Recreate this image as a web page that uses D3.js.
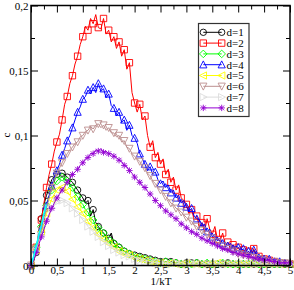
<!DOCTYPE html>
<html>
<head>
<meta charset="utf-8">
<script src="https://cdn.jsdelivr.net/npm/d3@7"></script>
<style>
    body { margin: 0; background: #fff; }
    svg { display: block; }
    svg text { font-family: "Liberation Serif", "Times New Roman", Times, serif !important; font-size: 11px; fill: #000; }
</style>
</head>
<body>
<svg id="chart" width="294" height="290"></svg>
<script>
'use strict';

// valores, paso de 0.05 en 1/kT
var kT = d3.range(101).map(function (i) { return +(i * 0.05).toFixed(2); });

var d1 = [0, 0.003, 0.01, 0.027, 0.036, 0.047, 0.054, 0.06, 0.066, 0.068, 0.07, 0.071, 0.071, 0.07, 0.068, 0.066, 0.064, 0.061, 0.058, 0.055,
    0.052, 0.048, 0.05, 0.038, 0.043, 0.033, 0.03, 0.027, 0.025, 0.022, 0.021, 0.025, 0.017, 0.016, 0.014, 0.013, 0.011, 0.01, 0.009, 0.008,
    0.008, 0.007, 0.007, 0.007, 0.006, 0.005, 0.005, 0.004, 0.004, 0.003, 0.003, 0.003, 0.003, 0.002, 0.003, 0.002, 0.002, 0.002, 0.001, 0.002,
    0.002, 0.001, 0.002, 0.001, 0.002, 0.001, 0.001, 0.002, 0.001, 0.001, 0.001, 0.002, 0.001, 0.001, 0.001, 0.001, 0.002, 0.001, 0.001, 0.001,
    0.001, 0.001, 0.001, 0.002, 0.001, 0.001, 0.001, 0.001, 0.001, 0.001, 0.001, 0.001, 0.001, 0.001, 0.001, 0.001, 0.001, 0.001, 0.001, 0.001, 0.001];
var d2 = [0, 0.006, 0.014, 0.024, 0.035, 0.048, 0.06, 0.07, 0.078, 0.088, 0.095, 0.101, 0.112, 0.124, 0.13, 0.14, 0.146, 0.155, 0.161, 0.17,
    0.176, 0.184, 0.181, 0.19, 0.186, 0.193, 0.183, 0.182, 0.19, 0.178, 0.181, 0.172, 0.176, 0.167, 0.172, 0.161, 0.166, 0.151, 0.156, 0.133,
    0.125, 0.118, 0.124, 0.112, 0.115, 0.1, 0.091, 0.096, 0.083, 0.087, 0.078, 0.082, 0.07, 0.074, 0.064, 0.068, 0.058, 0.062, 0.052, 0.05,
    0.047, 0.04, 0.043, 0.035, 0.038, 0.03, 0.033, 0.026, 0.036, 0.028, 0.024, 0.03, 0.02, 0.019, 0.025, 0.016, 0.018, 0.013, 0.016, 0.011,
    0.014, 0.01, 0.012, 0.008, 0.011, 0.007, 0.013, 0.006, 0.007, 0.004, 0.005, 0.003, 0.004, 0.003, 0.003, 0.002, 0.002, 0.002, 0.001, 0.002, 0.001];
var d3v = [0, 0.006, 0.014, 0.022, 0.03, 0.038, 0.046, 0.053, 0.058, 0.062, 0.065, 0.067, 0.068, 0.066, 0.065, 0.061, 0.06, 0.055, 0.053, 0.049,
    0.047, 0.043, 0.041, 0.036, 0.035, 0.03, 0.029, 0.025, 0.025, 0.021, 0.02, 0.018, 0.017, 0.014, 0.014, 0.012, 0.011, 0.01, 0.009, 0.008,
    0.007, 0.007, 0.006, 0.005, 0.005, 0.004, 0.004, 0.003, 0.003, 0.003, 0.002, 0.002, 0.003, 0.002, 0.002, 0.001, 0.002, 0.002, 0.001, 0.002,
    0.001, 0.002, 0.001, 0.001, 0.002, 0.001, 0.001, 0.001, 0.002, 0.001, 0.001, 0.001, 0.001, 0.001, 0.002, 0.001, 0.001, 0.001, 0.001, 0.001,
    0.001, 0.001, 0.001, 0.001, 0.001, 0.001, 0.002, 0.001, 0.001, 0.001, 0.001, 0.001, 0.001, 0.001, 0.001, 0.001, 0.001, 0.001, 0.001, 0.001, 0.001];
var d4 = [0, 0.006, 0.013, 0.02, 0.028, 0.037, 0.046, 0.054, 0.061, 0.068, 0.073, 0.078, 0.085, 0.09, 0.096, 0.1, 0.106, 0.112, 0.118, 0.122,
    0.128, 0.13, 0.135, 0.132, 0.137, 0.133, 0.14, 0.134, 0.136, 0.129, 0.132, 0.123, 0.121, 0.115, 0.118, 0.11, 0.112, 0.104, 0.108, 0.1,
    0.098, 0.094, 0.086, 0.082, 0.078, 0.073, 0.076, 0.07, 0.072, 0.066, 0.063, 0.065, 0.06, 0.062, 0.056, 0.058, 0.052, 0.054, 0.048, 0.05,
    0.045, 0.042, 0.044, 0.038, 0.036, 0.035, 0.03, 0.032, 0.026, 0.028, 0.022, 0.024, 0.019, 0.021, 0.017, 0.018, 0.015, 0.017, 0.013, 0.015,
    0.014, 0.011, 0.013, 0.009, 0.011, 0.008, 0.012, 0.009, 0.006, 0.007, 0.005, 0.004, 0.005, 0.003, 0.003, 0.002, 0.003, 0.002, 0.002, 0.001, 0.001];
var d5 = [0, 0.005, 0.012, 0.019, 0.026, 0.033, 0.04, 0.046, 0.051, 0.055, 0.058, 0.06, 0.06, 0.059, 0.057, 0.054, 0.051, 0.048, 0.045, 0.043,
    0.04, 0.037, 0.034, 0.031, 0.029, 0.026, 0.024, 0.022, 0.02, 0.018, 0.017, 0.015, 0.014, 0.013, 0.011, 0.01, 0.009, 0.008, 0.008, 0.007,
    0.006, 0.005, 0.005, 0.004, 0.004, 0.003, 0.003, 0.003, 0.002, 0.002, 0.002, 0.002, 0.001, 0.002, 0.002, 0.001, 0.001, 0.002, 0.001, 0.001,
    0.002, 0.001, 0.001, 0.001, 0.001, 0.002, 0.001, 0.001, 0.001, 0.001, 0.001, 0.001, 0.002, 0.001, 0.001, 0.001, 0.001, 0.001, 0.001, 0.001,
    0.001, 0.002, 0.001, 0.001, 0.001, 0.001, 0.001, 0.001, 0.001, 0.001, 0.001, 0.001, 0.001, 0.001, 0.001, 0.001, 0.001, 0.001, 0.001, 0.001, 0.001];
var d6 = [0, 0.005, 0.012, 0.019, 0.027, 0.035, 0.044, 0.052, 0.06, 0.066, 0.071, 0.075, 0.079, 0.083, 0.086, 0.089, 0.091, 0.094, 0.095, 0.099,
    0.1, 0.103, 0.104, 0.107, 0.105, 0.108, 0.109, 0.106, 0.108, 0.104, 0.106, 0.102, 0.102, 0.099, 0.1, 0.095, 0.096, 0.091, 0.09, 0.086,
    0.084, 0.082, 0.08, 0.076, 0.075, 0.071, 0.069, 0.065, 0.063, 0.06, 0.058, 0.056, 0.053, 0.051, 0.048, 0.047, 0.044, 0.043, 0.041, 0.039,
    0.037, 0.035, 0.034, 0.031, 0.03, 0.028, 0.027, 0.025, 0.024, 0.022, 0.021, 0.019, 0.018, 0.016, 0.015, 0.014, 0.013, 0.012, 0.011, 0.01,
    0.009, 0.009, 0.008, 0.007, 0.007, 0.006, 0.006, 0.005, 0.005, 0.004, 0.004, 0.004, 0.003, 0.003, 0.003, 0.002, 0.002, 0.002, 0.002, 0.001, 0.001];
var d7 = [0, 0.005, 0.011, 0.017, 0.023, 0.029, 0.035, 0.04, 0.044, 0.047, 0.049, 0.05, 0.05, 0.049, 0.048, 0.046, 0.044, 0.042, 0.04, 0.038,
    0.035, 0.033, 0.03, 0.028, 0.026, 0.024, 0.022, 0.02, 0.018, 0.017, 0.015, 0.014, 0.012, 0.011, 0.01, 0.009, 0.008, 0.007, 0.007, 0.006,
    0.005, 0.005, 0.004, 0.004, 0.003, 0.003, 0.003, 0.002, 0.002, 0.002, 0.002, 0.002, 0.001, 0.002, 0.001, 0.001, 0.002, 0.001, 0.001, 0.001,
    0.001, 0.001, 0.002, 0.001, 0.001, 0.001, 0.001, 0.001, 0.001, 0.002, 0.001, 0.001, 0.001, 0.001, 0.001, 0.001, 0.001, 0.001, 0.001, 0.001,
    0.001, 0.001, 0.001, 0.001, 0.001, 0.001, 0.001, 0.001, 0.001, 0.001, 0.001, 0.001, 0.001, 0.001, 0.001, 0.001, 0.001, 0.001, 0.001, 0.001, 0.001];
var d8 = [0, 0.004, 0.01, 0.016, 0.022, 0.028, 0.034, 0.039, 0.044, 0.048, 0.052, 0.055, 0.058, 0.061, 0.064, 0.067, 0.07, 0.072, 0.074, 0.077,
    0.079, 0.082, 0.083, 0.086, 0.086, 0.089, 0.088, 0.09, 0.087, 0.088, 0.086, 0.086, 0.084, 0.083, 0.081, 0.08, 0.077, 0.076, 0.073, 0.071,
    0.068, 0.066, 0.064, 0.061, 0.06, 0.057, 0.055, 0.053, 0.05, 0.048, 0.046, 0.044, 0.042, 0.041, 0.039, 0.037, 0.036, 0.034, 0.032, 0.031,
    0.029, 0.028, 0.026, 0.025, 0.024, 0.022, 0.021, 0.02, 0.019, 0.018, 0.017, 0.016, 0.015, 0.014, 0.013, 0.012, 0.012, 0.011, 0.01, 0.01,
    0.009, 0.008, 0.008, 0.007, 0.007, 0.006, 0.006, 0.005, 0.005, 0.005, 0.004, 0.004, 0.004, 0.003, 0.003, 0.003, 0.002, 0.002, 0.002, 0.002, 0.002];
// traza cian sin leyenda cerca del origen
var d9 = [0, 0.007, 0.015, 0.023, 0.031, 0.04, 0.047];

var seriesNames = ['d=1', 'd=2', 'd=3', 'd=4', 'd=5', 'd=6', 'd=7', 'd=8'];
var seriesValues = [d1, d2, d3v, d4, d5, d6, d7, d8];
var seriesColors = ['#000000', '#ff0000', '#00ff00', '#0000ff', '#ffff00', '#bc8f8f', '#dcdcdc', '#9400d3'];
var seriesSymbols = ['circle', 'square', 'diamond', 'up', 'left', 'down', 'right', 'star'];

var xMajor = [0, 0.5, 1, 1.5, 2, 2.5, 3, 3.5, 4, 4.5, 5];
var xMinor = [0.25, 0.75, 1.25, 1.75, 2.25, 2.75, 3.25, 3.75, 4.25, 4.75];
var yMajor = [0, 0.05, 0.1, 0.15, 0.2];
var yMinor = [0.025, 0.075, 0.125, 0.175];

var svg = d3.select('#chart');
var x = d3.scaleLinear().domain([0, 5]).range([31, 290]);
var y = d3.scaleLinear().domain([0, 0.2]).range([265.5, 5.5]);

var fmt = function (d) { return String(d).replace('.', ','); };
var serif = '"Liberation Serif", "Times New Roman", Times, serif';

//Simbolos al estilo de xmgrace
function symbol(g, type, color, cx, cy) {
    var s = 3.2;
    var p;
    if (type === 'circle') {
        g.append('circle').attr('cx', cx).attr('cy', cy).attr('r', s)
            .attr('fill', 'none').attr('stroke', color).attr('stroke-width', 0.9);
        return;
    }
    if (type === 'square') p = [[-s, -s], [s, -s], [s, s], [-s, s]];
    if (type === 'diamond') p = [[0, -s - 0.6], [s + 0.6, 0], [0, s + 0.6], [-s - 0.6, 0]];
    if (type === 'up') p = [[0, -s - 0.6], [s + 0.4, s], [-s - 0.4, s]];
    if (type === 'down') p = [[0, s + 0.6], [s + 0.4, -s], [-s - 0.4, -s]];
    if (type === 'left') p = [[-s - 0.6, 0], [s, -s - 0.4], [s, s + 0.4]];
    if (type === 'right') p = [[s + 0.6, 0], [-s, -s - 0.4], [-s, s + 0.4]];
    if (type === 'star') {
        var k = s * 0.75;
        g.append('path')
            .attr('d', 'M' + (cx - s) + ',' + cy + 'H' + (cx + s) + 'M' + cx + ',' + (cy - s) + 'V' + (cy + s) +
                'M' + (cx - k) + ',' + (cy - k) + 'L' + (cx + k) + ',' + (cy + k) +
                'M' + (cx - k) + ',' + (cy + k) + 'L' + (cx + k) + ',' + (cy - k))
            .attr('stroke', color).attr('stroke-width', 0.9).attr('fill', 'none');
        return;
    }
    g.append('path')
        .attr('d', 'M' + p.map(function (q) { return (cx + q[0]) + ',' + (cy + q[1]); }).join('L') + 'Z')
        .attr('fill', 'none').attr('stroke', color).attr('stroke-width', 0.9);
}

//Lineas y simbolos
var plot = svg.append('g').attr('class', 'plot');
var line = d3.line()
    .x(function (d) { return x(d.k); })
    .y(function (d) { return y(d.c); });

seriesValues.forEach(function (vals, s) {
    var pts = vals.map(function (v, i) { return { k: kT[i], c: v }; });
    var g = plot.append('g');
    g.append('path').datum(pts).attr('d', line)
        .attr('fill', 'none').attr('stroke', seriesColors[s]).attr('stroke-width', 1);
    pts.forEach(function (d, i) {
        if (i % 2 === 0) symbol(g, seriesSymbols[s], seriesColors[s], x(d.k), y(d.c));
    });
});

plot.append('path')
    .datum(d9.map(function (v, i) { return { k: kT[i], c: v }; }))
    .attr('d', line).attr('fill', 'none').attr('stroke', '#00ffff').attr('stroke-width', 1.6);

//Ejes con marcas hacia dentro
function axes(axisFn, ticksMajor, transform, labels) {
    var g = svg.append('g').attr('transform', transform);
    g.call(axisFn.tickValues(ticksMajor).tickSize(-7).tickPadding(labels ? 1 : 0)
        .tickFormat(labels ? fmt : function () { return ''; }));
    g.attr('font-family', serif).attr('font-size', 11);
    g.select('.domain').remove();
    g.selectAll('line').attr('stroke', '#000').attr('stroke-width', 1);
    g.selectAll('text').attr('font-family', serif).attr('font-size', 11);
    return g;
}
function minor(axisFn, ticksMinor, transform) {
    var g = svg.append('g').attr('transform', transform);
    g.call(axisFn.tickValues(ticksMinor).tickSize(-4).tickFormat(function () { return ''; }));
    g.select('.domain').remove();
    g.selectAll('line').attr('stroke', '#000').attr('stroke-width', 1);
}

axes(d3.axisBottom(x), xMajor, 'translate(0,265.5)', true);
minor(d3.axisBottom(x), xMinor, 'translate(0,265.5)');
axes(d3.axisTop(x), xMajor, 'translate(0,5.5)', false);
minor(d3.axisTop(x), xMinor, 'translate(0,5.5)');
axes(d3.axisLeft(y), yMajor, 'translate(31,0)', true).call(function (g) {
    g.selectAll('text').attr('x', -2.5);
});
minor(d3.axisLeft(y), yMinor, 'translate(31,0)');
axes(d3.axisRight(y), yMajor, 'translate(290,0)', false);
minor(d3.axisRight(y), yMinor, 'translate(290,0)');

svg.append('rect').attr('x', 31).attr('y', 5.5).attr('width', 259).attr('height', 260)
    .attr('fill', 'none').attr('stroke', '#000').attr('stroke-width', 1.5);

svg.append('text').attr('x', 161).attr('y', 285).attr('text-anchor', 'middle')
    .attr('font-family', serif).text('1/kT');
svg.append('text').attr('transform', 'translate(9.5,135) rotate(-90)').attr('text-anchor', 'middle')
    .attr('font-family', serif).text('c');

//Leyenda
var legend = svg.append('g').attr('class', 'legend');
legend.append('rect').attr('x', 198.5).attr('y', 23.5).attr('width', 50.5).attr('height', 93)
    .attr('fill', '#fff').attr('stroke', '#333').attr('stroke-width', 1.2);
seriesNames.forEach(function (name, i) {
    var ly = 32.3 + i * 10.8;
    legend.append('line').attr('x1', 203.3).attr('x2', 221.7).attr('y1', ly).attr('y2', ly)
        .attr('stroke', seriesColors[i]).attr('stroke-width', 1);
    symbol(legend, seriesSymbols[i], seriesColors[i], 203.3, ly);
    symbol(legend, seriesSymbols[i], seriesColors[i], 221.7, ly);
    legend.append('text').attr('x', 226.5).attr('y', ly + 3.8).attr('font-family', serif).text(name);
});
</script>
</body>
</html>
